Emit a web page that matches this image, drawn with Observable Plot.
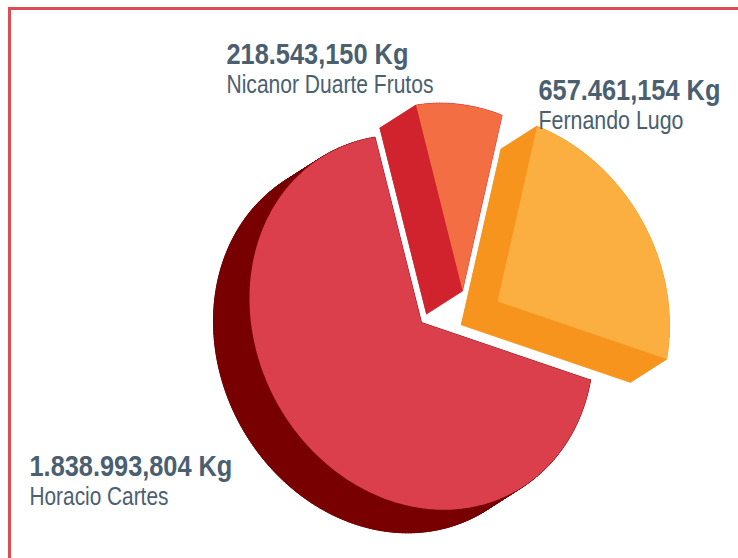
<!DOCTYPE html>
<html><head><meta charset="utf-8">
<script src="https://cdn.jsdelivr.net/npm/d3@7"></script>
<script src="https://cdn.jsdelivr.net/npm/@observablehq/plot@0.6"></script>
<style>
html,body{margin:0;padding:0;background:#fff;}
#wrap{position:relative;width:738px;height:558px;overflow:hidden;}
#frame{position:absolute;left:8px;top:7px;width:760px;height:580px;border-left:3px solid #E04A52;border-top:3px solid #E04A52;box-sizing:border-box;}
#chart{position:absolute;left:0;top:0;}
</style></head><body>
<div id="wrap"><div id="frame"></div><div id="chart"></div></div>
<script>
// ---- data ----
const names = ["Nicanor Duarte Frutos", "Fernando Lugo", "Horacio Cartes"];
const values = [218543.150, 657461.154, 1838993.804];
const unit = "Kg";

// ---- styles ----
const faceColors = ["#F36F43", "#FBAF40", "#DB3F4B"];
const sideColors = ["#D1232D", "#F7941D", "#780000"];
const textColor = "#4A6070";

// ---- layout (3D projection of the pie) ----
const W = 738, H = 558;
const cx = 450, cy = 310;
const A = [[172, 2], [22, 186]];      // face projection
const depth = [-36, 23];               // extrusion vector
const startAngle = -15 * Math.PI / 180;
const explode = [[12, -20], [47, -9], [-29, 12]];
const labelPos = [[226, 63], [538, 99], [29, 475]];
const lineGap = 29;
const valueWidths = [182, 182, 203];
const nameWidths = [207, 145, 139];

const fmt = d3.formatLocale({decimal: ",", thousands: ".", grouping: [3], currency: ["", ""]}).format(",.3f");

const arcs = d3.pie().sort(null).startAngle(startAngle).endAngle(startAngle + 2 * Math.PI)(values);

const proj = (a) => [A[0][0] * Math.sin(a) - A[0][1] * Math.cos(a), A[1][0] * Math.sin(a) - A[1][1] * Math.cos(a)];

const faces = [], sides = [];
arcs.forEach((arc, i) => {
  const C = [cx + explode[i][0], cy + explode[i][1]];
  const n = Math.max(2, Math.ceil((arc.endAngle - arc.startAngle) / (Math.PI / 180)));
  const pts = [];
  for (let k = 0; k <= n; k++) {
    const a = arc.startAngle + (arc.endAngle - arc.startAngle) * k / n;
    const p = proj(a);
    pts.push([C[0] + p[0], C[1] + p[1]]);
  }
  const face = [C, ...pts];
  const id = names[i];
  face.forEach(([x, y]) => faces.push({id, x, y, i}));
  face.forEach(([x, y]) => sides.push({id: id + "-back", x: x + depth[0], y: y + depth[1], i}));
  for (let k = 0; k < pts.length - 1; k++) {
    const p0 = pts[k], p1 = pts[k + 1];
    const q = [p0, p1, [p1[0] + depth[0], p1[1] + depth[1]], [p0[0] + depth[0], p0[1] + depth[1]]];
    q.forEach(([x, y]) => sides.push({id: id + "-w" + k, x, y, i}));
  }
  [pts[0], pts[pts.length - 1]].forEach((p, j) => {
    const q = [C, p, [p[0] + depth[0], p[1] + depth[1]], [C[0] + depth[0], C[1] + depth[1]]];
    q.forEach(([x, y]) => sides.push({id: id + "-r" + j, x, y, i}));
  });
});

const valueLabels = names.map((nm, i) => ({x: labelPos[i][0], y: labelPos[i][1], text: fmt(values[i]) + " " + unit, w: valueWidths[i]}));
const nameLabels = names.map((nm, i) => ({x: labelPos[i][0], y: labelPos[i][1] + lineGap, text: nm, w: nameWidths[i]}));

const font = "'Liberation Sans', Arial, sans-serif";

const chart = Plot.plot({
  width: W, height: H,
  margin: 0,
  x: {domain: [0, W], range: [0, W], axis: null},
  y: {domain: [0, H], range: [0, H], axis: null},
  marks: [
    Plot.line(sides, {x: "x", y: "y", z: "id", curve: "linear-closed", fill: d => sideColors[d.i], stroke: d => sideColors[d.i], strokeWidth: 0.8}),
    Plot.line(faces, {x: "x", y: "y", z: "id", curve: "linear-closed", fill: d => faceColors[d.i], stroke: "none"}),
    Plot.text(valueLabels, {x: "x", y: "y", text: "text", textAnchor: "start", lineAnchor: "bottom", fontSize: 29, fontWeight: 700, fill: textColor, fontFamily: font}),
    Plot.text(nameLabels, {x: "x", y: "y", text: "text", textAnchor: "start", lineAnchor: "bottom", fontSize: 26, fontWeight: 400, fill: textColor, fontFamily: font})
  ]
});
chart.style.background = "transparent";
document.getElementById("chart").appendChild(chart);
// condense the labels horizontally to the reference's narrow type
const widthOf = new Map([...valueLabels, ...nameLabels].map(d => [d.text, d.w]));
d3.select(chart).selectAll("text").each(function () {
  const w = widthOf.get(this.textContent);
  if (!w) return;
  const natural = this.getComputedTextLength();
  const sx = w / natural;
  const x = +(this.getAttribute("x") || 0), y = +(this.getAttribute("y") || 0);
  const t = this.getAttribute("transform") || "";
  this.setAttribute("transform", `${t} translate(${x},${y}) scale(${sx},1) translate(${-x},${-y})`);
});
</script>
</body></html>
